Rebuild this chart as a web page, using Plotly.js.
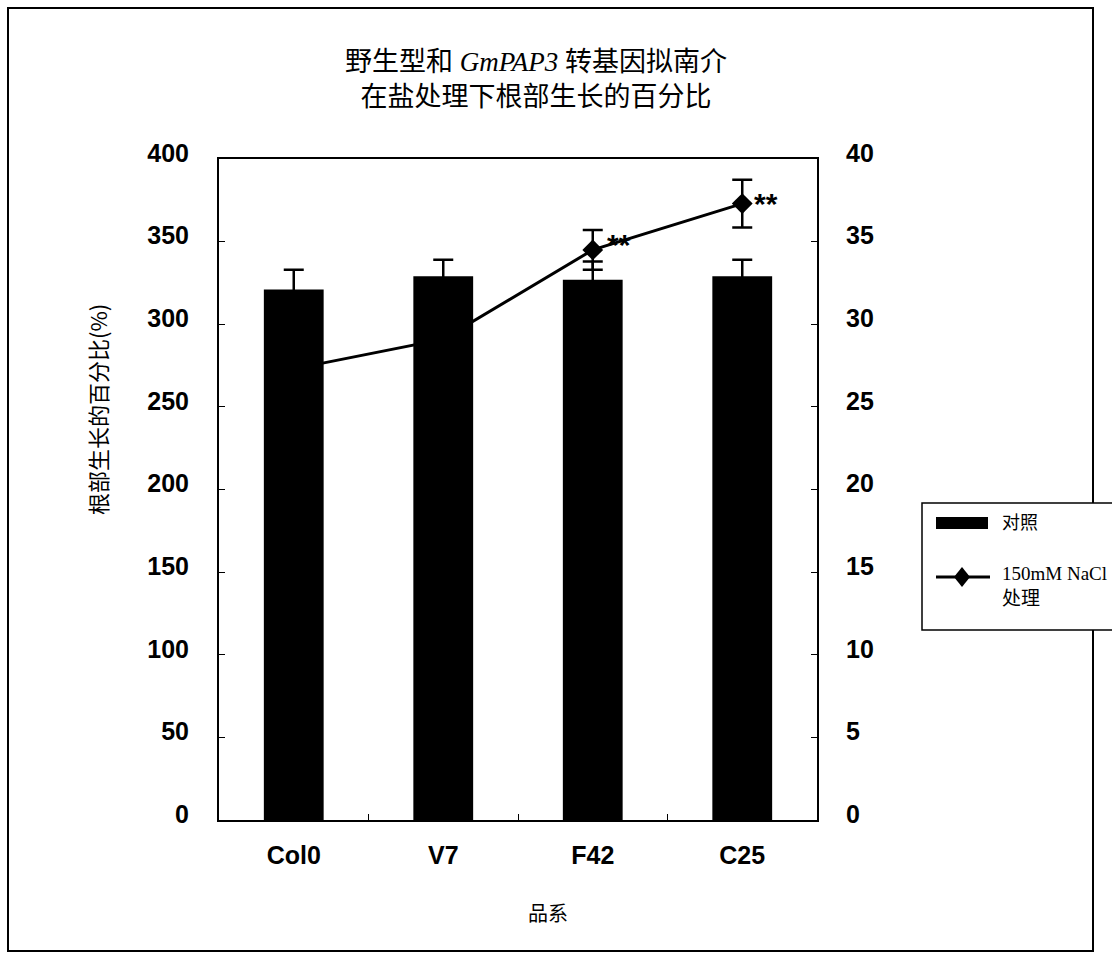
<!DOCTYPE html>
<html>
<head>
<meta charset="utf-8">
<script src="https://cdn.plot.ly/plotly-3.0.1.min.js"></script>
<style>
  html, body { margin: 0; padding: 0; background: #fff; }
  #chart { width: 1112px; height: 956px; }
</style>
</head>
<body>
<div id="chart"></div>
<script>
// ---- data ----
const categories = ['Col0', 'V7', 'F42', 'C25'];
const controlValues = [321, 329, 327, 329];      // 对照 (left axis, %)
const controlErrors = [12, 10, 11, 10];
const saltValues = [27.3, 29.1, 34.5, 37.3];     // 150mM NaCl 处理 (right axis)
const saltErrors = [1.0, 1.0, 1.2, 1.45];
const leftTicks = [0, 50, 100, 150, 200, 250, 300, 350, 400];
const rightTicks = [0, 5, 10, 15, 20, 25, 30, 35, 40];
const sigMarks = ['', '', '**', '**'];

// ---- geometry helpers (plot area in pixels) ----
const W = 1112, H = 956;
const L = 219, R = 817, T = 159, B = 820;
const px = x => (x - L) / (R - L);
const py = y => (B - y) / (B - T);

const serif = 'Liberation Serif, Noto Sans CJK SC, serif';
const cjk = 'Noto Sans CJK SC, Liberation Serif, serif';
const sansBold = { family: 'Liberation Sans, Arial, sans-serif', size: 25, color: '#000', weight: 'bold' };

const lineTrace = {
  type: 'scatter',
  mode: 'lines+markers',
  name: '150mM NaCl 处理',
  x: categories,
  y: saltValues,
  xaxis: 'x',
  yaxis: 'y',
  line: { color: '#000', width: 3 },
  marker: { symbol: 'diamond', size: 16, color: '#000' },
  error_y: { type: 'data', array: saltErrors, visible: true, color: '#000', thickness: 2.5, width: 10 },
  showlegend: false,
  hoverinfo: 'x+y'
};

const barTrace = {
  type: 'bar',
  name: '对照',
  x: categories,
  y: controlValues,
  xaxis: 'x',
  yaxis: 'y2',
  width: 0.4,
  marker: { color: '#000', line: { width: 0 } },
  error_y: { type: 'data', array: controlErrors, visible: true, color: '#000', thickness: 2.5, width: 10 },
  showlegend: false,
  hoverinfo: 'x+y'
};

const sigShift = [[0, 0], [0, 0], [12, 5], [10, 0]];
const annotations = [];
categories.forEach((c, i) => {
  if (sigMarks[i]) {
    annotations.push({
      x: c, y: saltValues[i], xref: 'x', yref: 'y',
      text: sigMarks[i], showarrow: false,
      xanchor: 'left', yanchor: 'middle',
      xshift: sigShift[i][0], yshift: sigShift[i][1],
      font: { family: 'Liberation Sans, Arial, sans-serif', size: 30, color: '#000', weight: 'bold' }
    });
  }
});
// axis titles
annotations.push({
  x: px(97), y: py(410), xref: 'paper', yref: 'paper',
  text: '根部生长的百分比(%)', textangle: -90, showarrow: false,
  xanchor: 'center', yanchor: 'middle',
  font: { family: cjk, size: 22, color: '#000' }
});
annotations.push({
  x: px(548), y: py(912), xref: 'paper', yref: 'paper',
  text: '品系', showarrow: false,
  xanchor: 'center', yanchor: 'middle',
  font: { family: cjk, size: 20, color: '#000' }
});
// custom legend texts
annotations.push({
  x: px(1000), y: py(523), xref: 'paper', yref: 'paper',
  text: '对照', showarrow: false, xanchor: 'left', yanchor: 'middle',
  font: { family: serif, size: 18, color: '#000' }
});
annotations.push({
  x: px(1000), y: py(586), xref: 'paper', yref: 'paper',
  text: '150mM NaCl<br>处理', showarrow: false, xanchor: 'left', yanchor: 'middle', align: 'left',
  font: { family: serif, size: 19, color: '#000' }
});

const shapes = [
  // outer frame
  { type: 'rect', xref: 'paper', yref: 'paper', x0: px(8), x1: px(1093), y0: py(951), y1: py(8),
    line: { color: '#000', width: 2 }, fillcolor: 'rgba(0,0,0,0)', layer: 'above' },
  // legend box
  { type: 'rect', xref: 'paper', yref: 'paper', x0: px(922), x1: px(1130), y0: py(630), y1: py(503),
    line: { color: '#000', width: 1.5 }, fillcolor: '#fff', layer: 'above' },
  // legend bar swatch
  { type: 'rect', xref: 'paper', yref: 'paper', x0: px(936), x1: px(988), y0: py(529), y1: py(517),
    line: { width: 0 }, fillcolor: '#000', layer: 'above' },
  // legend line swatch
  { type: 'line', xref: 'paper', yref: 'paper', x0: px(936), x1: px(990), y0: py(577), y1: py(577),
    line: { color: '#000', width: 3 }, layer: 'above' },
  // legend diamond
  { type: 'path', xref: 'paper', yref: 'paper',
    path: `M ${px(962)} ${py(567)} L ${px(970)} ${py(577)} L ${px(962)} ${py(587)} L ${px(954)} ${py(577)} Z`,
    line: { width: 0 }, fillcolor: '#000', layer: 'above' }
];

const layout = {
  width: W, height: H,
  margin: { l: L, r: W - R, t: T, b: H - B, pad: 0 },
  paper_bgcolor: '#fff', plot_bgcolor: '#fff',
  title: {
    text: '野生型和 <i>GmPAP3</i> 转基因拟南介<br>在盐处理下根部生长的百分比',
    font: { family: serif, size: 27, color: '#000' },
    x: 536 / W, xanchor: 'center', y: 1 - 71 / H, yanchor: 'top'
  },
  xaxis: {
    type: 'category', range: [-0.5, 3.5],
    showline: true, linecolor: '#000', linewidth: 2, mirror: true,
    ticks: 'inside', tickson: 'boundaries', ticklen: 6, tickcolor: '#000', tickwidth: 1,
    tickfont: sansBold, ticklabelstandoff: 12,
    showgrid: false, zeroline: false
  },
  yaxis: {
    side: 'right', range: [0, 40], tickvals: rightTicks,
    showline: true, linecolor: '#000', linewidth: 2,
    ticks: 'inside', ticklen: 6, tickcolor: '#000', tickwidth: 1,
    tickfont: sansBold, ticklabelstandoff: 22, ticklabelshift: -6,
    showgrid: false, zeroline: false
  },
  yaxis2: {
    overlaying: 'y', side: 'left', range: [0, 400], tickvals: leftTicks,
    showline: true, linecolor: '#000', linewidth: 2,
    ticks: 'inside', ticklen: 6, tickcolor: '#000', tickwidth: 1,
    tickfont: sansBold, ticklabelstandoff: 23, ticklabelshift: -6,
    showgrid: false, zeroline: false
  },
  showlegend: false,
  annotations: annotations,
  shapes: shapes
};

Plotly.newPlot('chart', [lineTrace, barTrace], layout, { displayModeBar: false, staticPlot: true });
</script>
</body>
</html>
